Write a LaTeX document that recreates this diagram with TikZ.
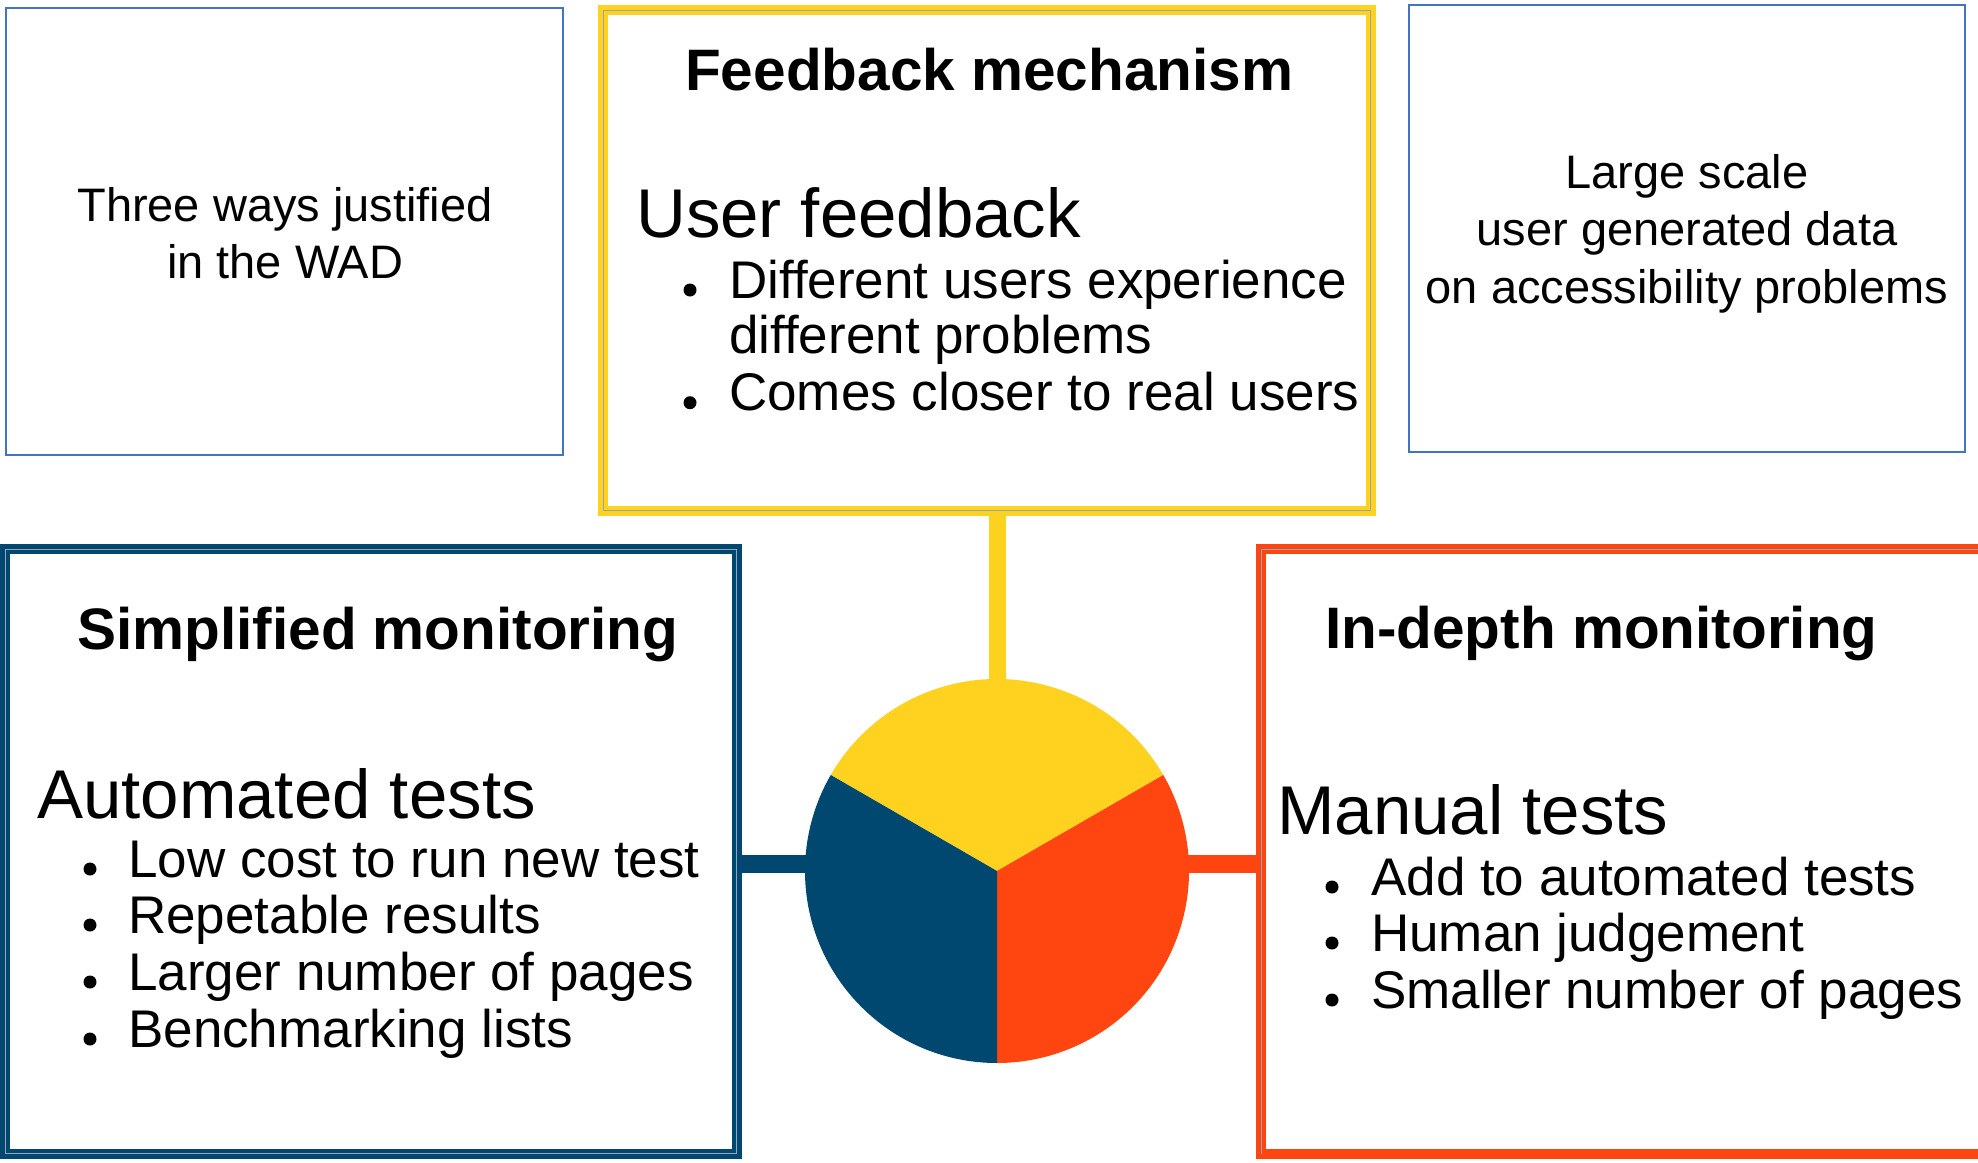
\documentclass[tikz,border=0pt]{standalone}
\usepackage{fontspec}
\setmainfont{Liberation Sans}
\definecolor{fbyellow}{RGB}{255,210,32}
\definecolor{smblue}{RGB}{0,72,112}
\definecolor{idorange}{RGB}{255,69,16}
\definecolor{thinblue}{RGB}{68,114,196}
\definecolor{innergrey}{RGB}{150,165,190}
\begin{document}
\begin{tikzpicture}[x=1pt,y=-1pt,
  plainbox/.style={draw=thinblue, line width=1.6, rectangle, inner sep=0, minimum width=#1},
  thickbox/.style={rectangle, inner sep=0, line width=10},
  innerline/.style={draw=innergrey, line width=1.2},
  small/.style={inner sep=0, font=\fontsize{47}{57}\selectfont},
  bullettxt/.style={inner sep=0, anchor=base west, font=\fontsize{53}{57}\selectfont},
  heading/.style={inner sep=0, anchor=base west, font=\fontsize{58.5}{66}\selectfont\bfseries},
  subhead/.style={inner sep=0, anchor=base west, font=\fontsize{69}{78}\selectfont},
  dot/.style={circle, fill=black, inner sep=0, minimum size=13},
  bar/.style={line width=18}]
\useasboundingbox (0,0) rectangle (1978,1162);

% top plain boxes
\node[plainbox=557, minimum height=447] (wad) at (284.5,231.5) {};
\node[plainbox=556, minimum height=447] (lsd) at (1687,228.5) {};
\node[small, anchor=base] (wad1) at (285,221.7) {Three ways justified};
\node[small, anchor=base] (wad2) at (285,278) {in the WAD};
\node[small, anchor=base] (lsd1) at (1687,188) {Large scale};
\node[small, anchor=base] (lsd2) at (1687,245.7) {user generated data};
\node[small, anchor=base] (lsd3) at (1687,303) {on accessibility problems};

% feedback box
\node[thickbox, draw=fbyellow, minimum width=768, minimum height=501] (fb) at (987,260.5) {};
\draw[innerline] ([xshift=5.3pt,yshift=-5.3pt]fb.north west) rectangle ([xshift=-5.3pt,yshift=5.3pt]fb.south east);
\node[heading] (fbt) at (685,90) {Feedback mechanism};
\node[subhead] (uf) at (636,237.5) {User feedback};
\node[bullettxt] (fb1) at (729,298) {Different users experience};
\node[bullettxt] (fb2) at (729,353.6) {different problems};
\node[bullettxt] (fb3) at (729,410.7) {Comes closer to real users};
\node[dot] (fbd1) at (690,290) {};
\node[dot] (fbd3) at (690,402.7) {};

% simplified monitoring box
\node[thickbox, draw=smblue, minimum width=732, minimum height=605] (sm) at (371,851.5) {};
\draw[innerline] ([xshift=5.3pt,yshift=-5.3pt]sm.north west) rectangle ([xshift=-5.3pt,yshift=5.3pt]sm.south east);
\node[heading] (smt) at (77,649) {Simplified monitoring};
\node[subhead] (at) at (37,818) {Automated tests};
\node[bullettxt] (sm1) at (128,877) {Low cost to run new test};
\node[bullettxt] (sm2) at (128,933) {Repetable results};
\node[bullettxt] (sm3) at (128,990) {Larger number of pages};
\node[bullettxt] (sm4) at (128,1047) {Benchmarking lists};
\foreach \yy [count=\i] in {869,925,982,1039} {\node[dot] (smd\i) at (90,\yy) {};}

% in-depth monitoring box
\node[thickbox, draw=idorange, minimum width=740, minimum height=605] (id) at (1631,851.5) {};
\draw[innerline] ([xshift=5.3pt,yshift=-5.3pt]id.north west) -- ([xshift=5.3pt,yshift=5.3pt]id.south west);
\draw[innerline] ([xshift=5.3pt,yshift=-5.3pt]id.north west) -- ([xshift=-5.3pt,yshift=-5.3pt]id.north east);
\node[heading] (idt) at (1325,648) {In-depth monitoring};
\node[subhead] (mt) at (1277,834) {Manual tests};
\node[bullettxt] (id1) at (1371,895) {Add to automated tests};
\node[bullettxt] (id2) at (1371,951) {Human judgement};
\node[bullettxt] (id3) at (1371,1008) {Smaller number of pages};
\foreach \yy [count=\i] in {887,943,1000} {\node[dot] (idd\i) at (1332,\yy) {};}

% pie
\node[circle, inner sep=0, minimum size=384] (pie) at (997,871) {};
\coordinate (bl) at (820,864);
\coordinate (br) at (1175,864);
\draw[bar, fbyellow, line width=17] (pie.north) -- (pie.north |- fb.south);
\draw[bar, smblue] (bl) -- (bl -| sm.east);
\draw[bar, idorange] (br) -- (br -| id.west);
\fill[fbyellow] (pie.center) -- ++(-30:192) arc (-30:-150:192) -- cycle;
\fill[idorange] (pie.center) -- ++(-30:192) arc (-30:90:192) -- cycle;
\fill[smblue] (pie.center) -- ++(90:192) arc (90:210:192) -- cycle;
\end{tikzpicture}
\end{document}
